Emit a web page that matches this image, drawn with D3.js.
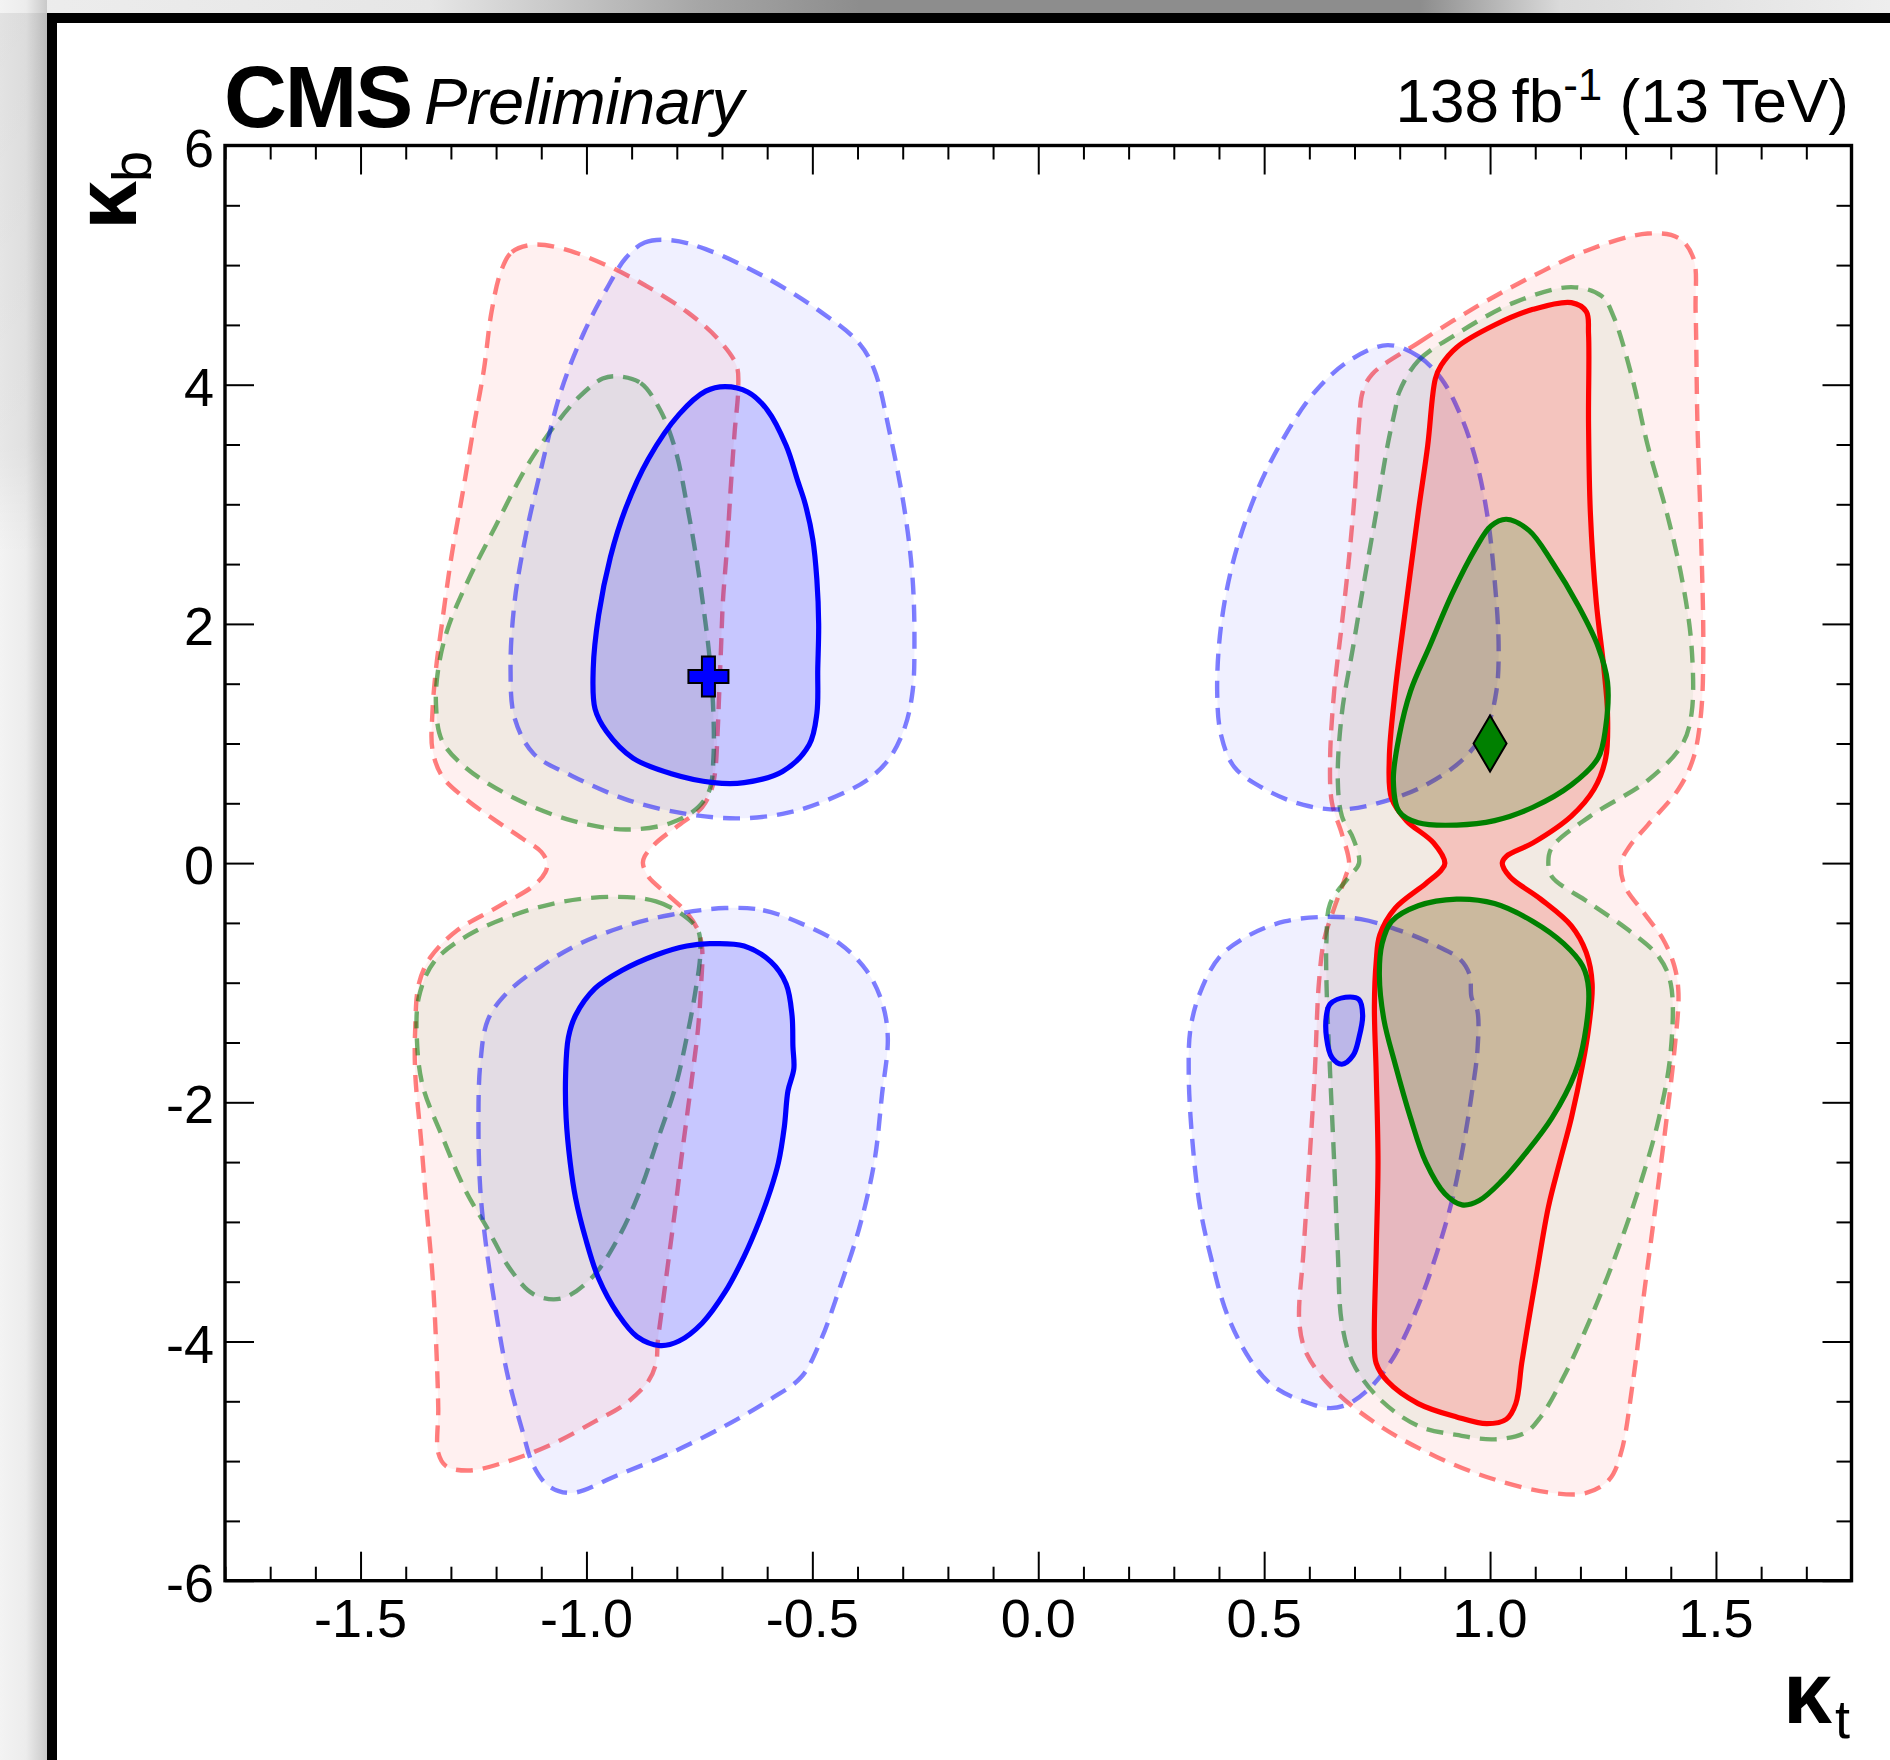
<!DOCTYPE html>
<html>
<head>
<meta charset="utf-8">
<script src="https://cdn.jsdelivr.net/npm/d3@7"></script>
<style>
  html, body { margin: 0; padding: 0; background: #fff; }
  svg { display: block; }
  text { font-family: "Liberation Sans", Arimo, Helvetica, Arial, sans-serif; fill: #000; }
</style>
</head>
<body>
<svg id="chart" width="1890" height="1760"></svg>
<script>
/* ---------- Axis ticks ---------- */
const ktTicks  = [-1.5, -1.0, -0.5, 0.0, 0.5, 1.0, 1.5];
const ktLabels = ["-1.5", "-1.0", "-0.5", "0.0", "0.5", "1.0", "1.5"];
const kbTicks  = [6, 4, 2, 0, -2, -4, -6];
const kbLabels = ["6", "4", "2", "0", "-2", "-4", "-6"];

/* ---------- Best-fit points [kt, kb] ---------- */
const bestFitBlue  = [-0.73, 1.56];
const bestFitGreen = [1.0, 1.0];

/* ---------- Contours, each a closed ring of [kt, kb] ---------- */
// red, 2 sigma (dashed)
const redDashedLeft = [[-1.189,4.95],[-1.165,5.11],[-1.117,5.171],[-1.049,5.133],[-0.947,4.984],[-0.863,4.816],[-0.778,4.611],[-0.710,4.387],[-0.668,4.163],[-0.664,3.976],[-0.672,3.603],[-0.681,3.118],[-0.689,2.632],[-0.698,2.185],[-0.702,1.811],[-0.706,1.438],[-0.710,1.065],[-0.715,0.766],[-0.723,0.617],[-0.744,0.467],[-0.795,0.318],[-0.846,0.169],[-0.871,0.057],[-0.875,0],[-0.863,-0.114],[-0.820,-0.264],[-0.778,-0.413],[-0.753,-0.562],[-0.744,-0.712],[-0.746,-1.010],[-0.753,-1.384],[-0.765,-1.757],[-0.778,-2.130],[-0.791,-2.503],[-0.803,-2.877],[-0.816,-3.250],[-0.829,-3.623],[-0.842,-3.996],[-0.846,-4.183],[-0.863,-4.332],[-0.913,-4.519],[-0.981,-4.668],[-1.074,-4.855],[-1.176,-5.004],[-1.261,-5.079],[-1.311,-5.041],[-1.328,-4.930],[-1.328,-4.556],[-1.333,-3.996],[-1.341,-3.436],[-1.354,-2.877],[-1.366,-2.317],[-1.379,-1.757],[-1.379,-1.384],[-1.371,-1.010],[-1.345,-0.786],[-1.286,-0.562],[-1.201,-0.376],[-1.117,-0.189],[-1.091,-0.077],[-1.087,0],[-1.100,0.094],[-1.142,0.206],[-1.201,0.355],[-1.269,0.542],[-1.320,0.729],[-1.341,0.953],[-1.341,1.251],[-1.333,1.625],[-1.320,1.998],[-1.299,2.558],[-1.273,3.118],[-1.248,3.678],[-1.227,4.126],[-1.210,4.611]];
const redDashedRight = [[0.739,4.088],[0.841,4.350],[0.968,4.648],[1.095,4.909],[1.222,5.133],[1.349,5.264],[1.417,5.227],[1.450,5.059],[1.455,4.611],[1.459,3.678],[1.467,2.744],[1.472,1.811],[1.467,1.251],[1.450,0.878],[1.417,0.617],[1.349,0.318],[1.307,0.131],[1.290,0],[1.298,-0.189],[1.340,-0.413],[1.383,-0.637],[1.408,-0.861],[1.417,-1.085],[1.408,-1.570],[1.391,-2.130],[1.366,-2.877],[1.340,-3.623],[1.315,-4.370],[1.290,-4.930],[1.264,-5.154],[1.213,-5.266],[1.137,-5.266],[1.010,-5.154],[0.883,-4.967],[0.756,-4.706],[0.655,-4.407],[0.595,-4.109],[0.578,-3.847],[0.587,-3.250],[0.600,-2.503],[0.612,-1.757],[0.621,-1.010],[0.633,-0.637],[0.655,-0.376],[0.680,-0.114],[0.688,0],[0.672,0.244],[0.650,0.505],[0.646,0.878],[0.655,1.438],[0.672,2.000],[0.688,2.558],[0.701,3.118],[0.710,3.678],[0.718,3.939]];
// green, 2 sigma (dashed)
const greenDashedLeftUp = [[-0.930,4.070],[-0.880,4.014],[-0.837,3.790],[-0.803,3.454],[-0.778,3.006],[-0.757,2.558],[-0.740,2.110],[-0.727,1.699],[-0.719,1.251],[-0.719,0.878],[-0.727,0.617],[-0.753,0.467],[-0.812,0.337],[-0.913,0.281],[-1.032,0.355],[-1.159,0.542],[-1.269,0.803],[-1.320,1.027],[-1.333,1.326],[-1.328,1.625],[-1.307,1.961],[-1.261,2.371],[-1.201,2.819],[-1.134,3.304],[-1.074,3.640],[-1.015,3.902],[-0.964,4.051]];
const greenDashedLeftDown = [[-0.930,-0.282],[-0.846,-0.320],[-0.787,-0.432],[-0.753,-0.562],[-0.748,-0.749],[-0.761,-1.122],[-0.778,-1.458],[-0.803,-1.869],[-0.846,-2.354],[-0.880,-2.727],[-0.930,-3.138],[-0.990,-3.474],[-1.057,-3.642],[-1.117,-3.605],[-1.168,-3.399],[-1.218,-3.063],[-1.269,-2.727],[-1.320,-2.279],[-1.362,-1.869],[-1.375,-1.496],[-1.371,-1.122],[-1.337,-0.824],[-1.261,-0.600],[-1.159,-0.432],[-1.049,-0.320]];
const greenDashedRight = [[0.799,3.939],[0.841,4.200],[0.926,4.424],[1.053,4.686],[1.180,4.816],[1.247,4.741],[1.273,4.574],[1.315,4.051],[1.349,3.491],[1.391,2.931],[1.425,2.371],[1.446,1.811],[1.446,1.251],[1.425,0.990],[1.349,0.691],[1.222,0.393],[1.137,0.131],[1.129,0],[1.137,-0.114],[1.222,-0.338],[1.307,-0.562],[1.374,-0.786],[1.400,-1.010],[1.400,-1.570],[1.374,-2.130],[1.332,-2.690],[1.281,-3.250],[1.222,-3.810],[1.163,-4.295],[1.112,-4.631],[1.078,-4.762],[1.010,-4.818],[0.926,-4.781],[0.841,-4.706],[0.756,-4.482],[0.697,-4.183],[0.672,-3.847],[0.663,-3.250],[0.655,-2.503],[0.646,-1.757],[0.638,-1.010],[0.638,-0.637],[0.646,-0.338],[0.688,-0.114],[0.710,0],[0.697,0.206],[0.672,0.393],[0.663,0.691],[0.672,1.251],[0.697,1.811],[0.722,2.371],[0.748,2.931],[0.773,3.491],[0.790,3.790]];
// blue, 2 sigma (dashed)
const blueDashedLeftUp = [[-0.913,5.059],[-0.871,5.189],[-0.812,5.208],[-0.736,5.133],[-0.609,4.909],[-0.482,4.611],[-0.397,4.350],[-0.363,4.126],[-0.329,3.603],[-0.295,2.931],[-0.278,2.371],[-0.274,1.811],[-0.278,1.438],[-0.295,1.139],[-0.329,0.878],[-0.380,0.691],[-0.482,0.505],[-0.566,0.411],[-0.668,0.374],[-0.778,0.411],[-0.905,0.523],[-1.032,0.729],[-1.117,0.915],[-1.159,1.214],[-1.168,1.625],[-1.159,2.185],[-1.134,2.744],[-1.100,3.304],[-1.057,3.939],[-1.007,4.424],[-0.956,4.797]];
const blueDashedLeftDown = [[-0.693,-0.376],[-0.609,-0.394],[-0.524,-0.506],[-0.439,-0.674],[-0.380,-0.898],[-0.346,-1.160],[-0.333,-1.458],[-0.346,-1.943],[-0.363,-2.503],[-0.397,-3.063],[-0.439,-3.548],[-0.482,-3.996],[-0.524,-4.295],[-0.592,-4.482],[-0.693,-4.706],[-0.812,-4.930],[-0.930,-5.116],[-1.032,-5.266],[-1.083,-5.210],[-1.117,-5.041],[-1.142,-4.743],[-1.176,-4.258],[-1.201,-3.735],[-1.223,-3.175],[-1.235,-2.727],[-1.239,-2.205],[-1.235,-1.682],[-1.218,-1.309],[-1.176,-1.085],[-1.100,-0.861],[-1.015,-0.674],[-0.913,-0.525],[-0.812,-0.432]];
const blueDashedRightUp = [[0.773,4.331],[0.841,4.238],[0.892,4.051],[0.934,3.752],[0.968,3.379],[0.993,2.931],[1.010,2.371],[1.019,1.811],[1.014,1.438],[0.993,1.139],[0.943,0.878],[0.858,0.654],[0.756,0.505],[0.672,0.449],[0.587,0.486],[0.502,0.617],[0.434,0.803],[0.405,1.065],[0.396,1.438],[0.405,1.998],[0.434,2.558],[0.485,3.118],[0.545,3.566],[0.612,3.939],[0.688,4.200]];
const blueDashedRightDown = [[0.629,-0.450],[0.714,-0.469],[0.799,-0.562],[0.883,-0.693],[0.934,-0.805],[0.955,-0.936],[0.959,-1.122],[0.972,-1.234],[0.972,-1.570],[0.959,-1.943],[0.943,-2.317],[0.917,-2.802],[0.883,-3.250],[0.841,-3.698],[0.790,-4.109],[0.739,-4.370],[0.688,-4.519],[0.646,-4.557],[0.587,-4.500],[0.519,-4.370],[0.468,-4.146],[0.418,-3.773],[0.384,-3.324],[0.358,-2.877],[0.341,-2.317],[0.333,-1.757],[0.337,-1.384],[0.358,-1.085],[0.401,-0.786],[0.468,-0.600],[0.545,-0.488]];
// red, 1 sigma (solid)
const redSolidRight = [[1.180,4.686],[1.213,4.611],[1.218,4.424],[1.218,3.678],[1.222,2.931],[1.235,2.185],[1.252,1.625],[1.260,1.251],[1.256,0.878],[1.230,0.617],[1.180,0.393],[1.095,0.169],[1.036,0.057],[1.027,0],[1.044,-0.114],[1.112,-0.301],[1.180,-0.525],[1.213,-0.749],[1.226,-1.010],[1.218,-1.384],[1.205,-1.682],[1.180,-2.130],[1.154,-2.503],[1.129,-2.877],[1.103,-3.436],[1.086,-3.810],[1.070,-4.183],[1.057,-4.519],[1.036,-4.650],[0.993,-4.687],[0.926,-4.631],[0.841,-4.519],[0.773,-4.333],[0.748,-4.183],[0.744,-3.996],[0.748,-3.250],[0.752,-2.503],[0.748,-1.757],[0.744,-1.197],[0.748,-0.824],[0.756,-0.600],[0.790,-0.376],[0.858,-0.170],[0.892,-0.058],[0.900,0],[0.875,0.169],[0.815,0.355],[0.782,0.542],[0.777,0.878],[0.790,1.438],[0.815,2.185],[0.841,2.931],[0.862,3.491],[0.879,4.051],[0.892,4.163],[0.926,4.312],[1.010,4.499],[1.095,4.630]];
// green, 1 sigma (solid)
const greenSolidRightUp = [[1.036,2.875],[1.086,2.782],[1.137,2.520],[1.196,2.147],[1.239,1.811],[1.260,1.513],[1.256,1.139],[1.239,0.878],[1.180,0.654],[1.095,0.467],[1.010,0.355],[0.926,0.318],[0.841,0.337],[0.799,0.430],[0.786,0.691],[0.799,1.065],[0.824,1.438],[0.866,1.811],[0.917,2.259],[0.968,2.632],[1.002,2.819]];
const greenSolidRightDown = [[0.926,-0.301],[1.010,-0.338],[1.095,-0.488],[1.163,-0.674],[1.205,-0.861],[1.218,-1.048],[1.209,-1.458],[1.188,-1.757],[1.137,-2.130],[1.078,-2.429],[1.027,-2.653],[0.976,-2.821],[0.938,-2.858],[0.900,-2.765],[0.858,-2.503],[0.824,-2.130],[0.790,-1.682],[0.765,-1.309],[0.755,-0.936],[0.761,-0.674],[0.782,-0.488],[0.841,-0.357]];
// blue, 1 sigma (solid)
const blueSolidLeftUp = [[-0.693,3.984],[-0.643,3.939],[-0.600,3.790],[-0.558,3.491],[-0.532,3.192],[-0.516,3.006],[-0.499,2.707],[-0.490,2.371],[-0.486,1.998],[-0.488,1.625],[-0.490,1.251],[-0.507,0.990],[-0.566,0.766],[-0.651,0.673],[-0.719,0.673],[-0.812,0.747],[-0.897,0.878],[-0.956,1.102],[-0.981,1.289],[-0.985,1.625],[-0.973,2.073],[-0.947,2.558],[-0.913,2.968],[-0.863,3.379],[-0.795,3.752],[-0.736,3.946]];
const blueSolidLeftDown = [[-0.727,-0.674],[-0.651,-0.693],[-0.592,-0.824],[-0.558,-1.010],[-0.545,-1.272],[-0.543,-1.533],[-0.541,-1.720],[-0.554,-1.906],[-0.562,-2.205],[-0.575,-2.503],[-0.592,-2.727],[-0.617,-2.989],[-0.651,-3.288],[-0.693,-3.586],[-0.744,-3.847],[-0.795,-3.996],[-0.837,-4.034],[-0.888,-3.959],[-0.930,-3.772],[-0.973,-3.474],[-1.002,-3.138],[-1.024,-2.802],[-1.036,-2.503],[-1.045,-2.130],[-1.046,-1.757],[-1.040,-1.458],[-1.024,-1.272],[-0.981,-1.048],[-0.922,-0.898],[-0.846,-0.768],[-0.778,-0.693]];
const blueSolidRightSmall = [[0.646,-1.178],[0.680,-1.122],[0.710,-1.141],[0.718,-1.272],[0.710,-1.458],[0.697,-1.607],[0.672,-1.682],[0.650,-1.626],[0.638,-1.458],[0.638,-1.272]];

/* ---------- Layout ---------- */
const svg = d3.select("#chart");
const M = { left: 225, right: 1851.5, top: 145.5, bottom: 1580.7 };
const FONT = 54;

const x = d3.scaleLinear().domain([-1.8, 1.8]).range([M.left, M.right]);
const y = d3.scaleLinear().domain([-6, 6]).range([M.bottom, M.top]);

/* ---------- Window chrome (screenshot frame) ---------- */
const defs = svg.append("defs");
const topGrad = defs.append("linearGradient").attr("id", "topGrad")
  .attr("gradientUnits", "userSpaceOnUse").attr("x1", 0).attr("x2", 1890).attr("y1", 0).attr("y2", 0);
[[0, "#ededed"], [430, "#e6e6e6"], [700, "#a6a6a6"], [860, "#8d8d8d"], [1420, "#8d8d8d"], [1560, "#dadada"], [1890, "#eeeeee"]]
  .forEach(([o, c]) => topGrad.append("stop").attr("offset", o / 1890).attr("stop-color", c));
const leftGrad = defs.append("linearGradient").attr("id", "leftGrad")
  .attr("x1", 0).attr("x2", 1).attr("y1", 0).attr("y2", 0);
[[0, "#f3f3f3"], [0.55, "#ececec"], [1, "#c9c9c9"]]
  .forEach(([o, c]) => leftGrad.append("stop").attr("offset", o).attr("stop-color", c));
const shadeGrad = defs.append("linearGradient").attr("id", "shadeGrad")
  .attr("x1", 0).attr("x2", 0).attr("y1", 0).attr("y2", 1);
[[0, "rgba(0,0,0,0.07)"], [0.8, "rgba(0,0,0,0.05)"], [1, "rgba(0,0,0,0)"]]
  .forEach(([o, c]) => shadeGrad.append("stop").attr("offset", o).attr("stop-color", c));

svg.append("rect").attr("x", 0).attr("y", 0).attr("width", 1890).attr("height", 13).attr("fill", "url(#topGrad)");
svg.append("rect").attr("x", 0).attr("y", 0).attr("width", 47).attr("height", 1760).attr("fill", "url(#leftGrad)");
svg.append("rect").attr("x", 0).attr("y", 13).attr("width", 47).attr("height", 540).attr("fill", "url(#shadeGrad)");
svg.append("rect").attr("x", 47).attr("y", 13).attr("width", 1843).attr("height", 10).attr("fill", "#000");
svg.append("rect").attr("x", 47).attr("y", 13).attr("width", 10).attr("height", 1747).attr("fill", "#000");

/* ---------- Contours ---------- */
const ring = d3.line()
  .x(d => x(d[0])).y(d => y(d[1]))
  .curve(d3.curveCatmullRomClosed.alpha(0.5));

const layers = [
  { rings: [redDashedLeft, redDashedRight], fill: "rgba(255,0,0,0.06)", stroke: "rgba(255,0,0,0.5)", dashed: true },
  { rings: [greenDashedLeftUp, greenDashedLeftDown, greenDashedRight], fill: "rgba(0,128,0,0.05)", stroke: "rgba(0,120,0,0.55)", dashed: true },
  { rings: [blueDashedLeftUp, blueDashedLeftDown, blueDashedRightUp, blueDashedRightDown], fill: "rgba(0,0,255,0.06)", stroke: "rgba(0,0,255,0.5)", dashed: true },
  { rings: [redSolidRight], fill: "rgba(255,0,0,0.16)", stroke: "#ff0000", dashed: false },
  { rings: [greenSolidRightUp, greenSolidRightDown], fill: "rgba(0,128,0,0.17)", stroke: "#008000", dashed: false },
  { rings: [blueSolidLeftUp, blueSolidLeftDown, blueSolidRightSmall], fill: "rgba(0,0,255,0.17)", stroke: "#0000ff", dashed: false }
];

const plot = svg.append("g").attr("class", "contours");
layers.forEach(L => {
  plot.append("g").selectAll("path")
    .data(L.rings)
    .join("path")
      .attr("d", ring)
      .attr("fill", L.fill)
      .attr("stroke", L.stroke)
      .attr("stroke-width", L.dashed ? 4.4 : 5.2)
      .attr("stroke-dasharray", L.dashed ? "17,10" : null)
      .attr("stroke-linejoin", "round");
});

/* ---------- Best-fit markers ---------- */
const plus = "M-6.5,-20H6.5V-6.5H20V6.5H6.5V20H-6.5V6.5H-20V-6.5H-6.5Z";
svg.append("path")
  .attr("d", plus)
  .attr("transform", `translate(${x(bestFitBlue[0])},${y(bestFitBlue[1])})`)
  .attr("fill", "#0000ff").attr("stroke", "#000").attr("stroke-width", 2);

svg.append("path")
  .attr("d", "M0,-28L16.5,0L0,28L-16.5,0Z")
  .attr("transform", `translate(${x(bestFitGreen[0])},${y(bestFitGreen[1])})`)
  .attr("fill", "#008000").attr("stroke", "#000").attr("stroke-width", 2);

/* ---------- Axes (ticks on all four sides, pointing inward) ---------- */
const near = (a, b) => Math.abs(a - b) < 1e-6;
const minorX = x.ticks(36).filter(v => !ktTicks.some(m => near(m, v)));
const minorY = y.ticks(24).filter(v => !kbTicks.some(m => near(m, v)));

function tickGroup(axis, tx, ty){
  svg.append("g")
    .attr("transform", `translate(${tx},${ty})`)
    .attr("color", "#000")
    .call(axis.tickFormat("").tickSizeOuter(0))
    .call(g => g.select(".domain").remove())
    .call(g => g.selectAll("line").attr("stroke-width", 2));
}
tickGroup(d3.axisBottom(x).tickValues(ktTicks).tickSize(-29), 0, M.bottom);
tickGroup(d3.axisBottom(x).tickValues(minorX).tickSize(-14), 0, M.bottom);
tickGroup(d3.axisTop(x).tickValues(ktTicks).tickSize(-29), 0, M.top);
tickGroup(d3.axisTop(x).tickValues(minorX).tickSize(-14), 0, M.top);
tickGroup(d3.axisLeft(y).tickValues(kbTicks).tickSize(-29), M.left, 0);
tickGroup(d3.axisLeft(y).tickValues(minorY).tickSize(-15), M.left, 0);
tickGroup(d3.axisRight(y).tickValues(kbTicks).tickSize(-29), M.right, 0);
tickGroup(d3.axisRight(y).tickValues(minorY).tickSize(-15), M.right, 0);

svg.append("rect")
  .attr("x", M.left).attr("y", M.top)
  .attr("width", M.right - M.left).attr("height", M.bottom - M.top)
  .attr("fill", "none").attr("stroke", "#000").attr("stroke-width", 3.4);

/* ---------- Tick labels ---------- */
svg.append("g").selectAll("text")
  .data(ktTicks)
  .join("text")
    .attr("x", d => x(d))
    .attr("y", M.bottom + 56.5)
    .attr("text-anchor", "middle")
    .attr("font-size", FONT)
    .text((d, i) => ktLabels[i]);

svg.append("g").selectAll("text")
  .data(kbTicks)
  .join("text")
    .attr("x", 214)
    .attr("y", d => y(d) + 21)
    .attr("text-anchor", "end")
    .attr("font-size", FONT)
    .text((d, i) => kbLabels[i]);

/* ---------- Axis titles ---------- */
const xt = svg.append("g");
xt.append("text").attr("x", 1783).attr("y", 1723)
  .attr("font-size", 88).attr("font-weight", "bold").text("κ");
xt.append("text").attr("x", 1835).attr("y", 1738)
  .attr("font-size", 54).text("t");

const yt = svg.append("g").attr("transform", "translate(136,230) rotate(-90)");
yt.append("text").attr("x", 0).attr("y", 0)
  .attr("font-size", 88).attr("font-weight", "bold").text("κ");
yt.append("text").attr("x", 48).attr("y", 15)
  .attr("font-size", 56).text("b");

/* ---------- Header ---------- */
svg.append("text").attr("x", 224).attr("y", 127)
  .attr("font-size", 87).attr("font-weight", "bold").attr("letter-spacing", -2)
  .text("CMS");
svg.append("text").attr("x", 424).attr("y", 124)
  .attr("font-size", 65).attr("font-style", "italic").attr("letter-spacing", -0.5)
  .text("Preliminary");

const lumi = svg.append("text").attr("x", 1849).attr("y", 122)
  .attr("text-anchor", "end").attr("font-size", 62);
lumi.append("tspan").text("138\u2009fb");
lumi.append("tspan").attr("font-size", 44).attr("dy", -22).text("-1");
lumi.append("tspan").attr("dy", 22).text(" (13\u2009TeV)");
</script>
</body>
</html>
